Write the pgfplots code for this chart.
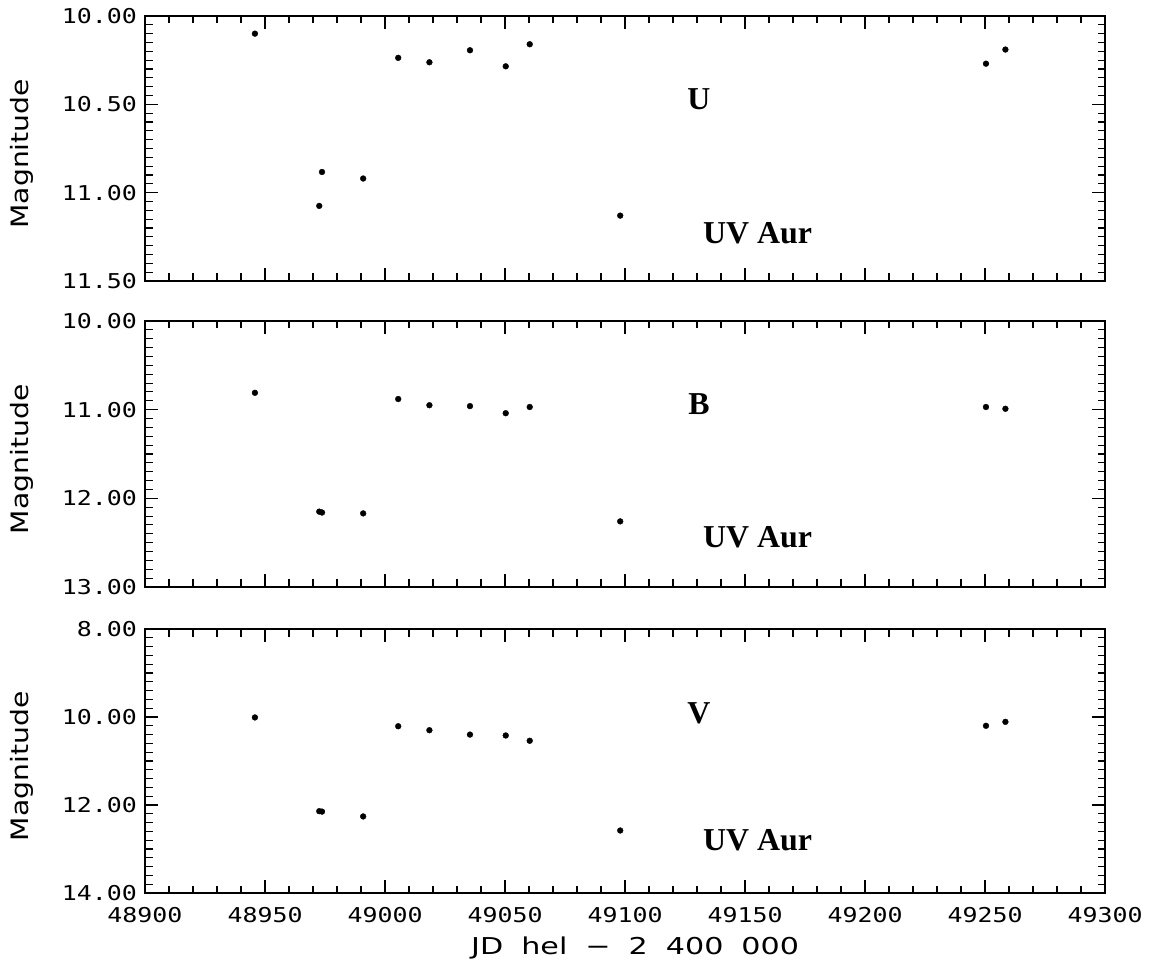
\documentclass[border=0pt]{standalone}
\usepackage{fontspec}
\usepackage{pgfplots}
\pgfplotsset{compat=1.18}
\setmainfont{DejaVu Sans}
\newfontfamily\tickfont{DejaVu Sans Mono}[FakeStretch=1.22]
\newfontfamily\labfont{DejaVu Sans}[FakeStretch=1.18]
\newfontfamily\titfont{DejaVu Sans}[FakeStretch=1.3]
\newfontfamily\serfont{Liberation Serif}

\pgfplotstableread{
x y
48945.8 10.10
48972.6 11.075
48973.75 10.883
48990.9 10.92
49005.5 10.237
49018.5 10.262
49035.4 10.194
49050.3 10.285
49060.3 10.160
49098.0 11.13
49250.4 10.27
49258.5 10.19
}\dataU
\pgfplotstableread{
x y
48945.8 10.81
48972.6 12.15
48973.75 12.16
48990.9 12.17
49005.5 10.88
49018.5 10.95
49035.4 10.96
49050.3 11.04
49060.3 10.97
49098.0 12.26
49250.4 10.97
49258.5 10.99
}\dataB
\pgfplotstableread{
x y
48945.8 10.01
48972.6 12.14
48973.75 12.15
48990.9 12.26
49005.5 10.21
49018.5 10.30
49035.4 10.40
49050.3 10.42
49060.3 10.54
49098.0 12.58
49250.4 10.20
49258.5 10.11
}\dataV

\tikzset{band/.style={font=\serfont\bfseries\fontsize{32}{32}\selectfont, inner sep=0pt}}

\pgfplotsset{
  panel/.style={
    scale only axis,
    width=960bp,
    anchor=south west,
    xmin=48900, xmax=49300,
    y dir=reverse,
    xtick={48900,48950,...,49300},
    scaled x ticks=false,
    scaled y ticks=false,
    minor x tick num=4,
    minor y tick num=9,
    major tick length=13bp,
    minor tick length=7.5bp,
    axis line style={line width=1.5bp},
    tick style={line width=1.1bp, black},
    /pgf/number format/1000 sep={},
    /pgf/number format/assume math mode=true,
    yticklabel style={font=\tickfont\fontsize{20.5}{20.5}\selectfont, inner sep=0pt,
      /pgf/number format/fixed, /pgf/number format/fixed zerofill, /pgf/number format/precision=2},
    yticklabel shift=8bp,
    xticklabel style={font=\tickfont\fontsize{20.5}{20.5}\selectfont, inner sep=0pt,
      /pgf/number format/fixed, /pgf/number format/precision=0},
    xticklabel shift=14bp,
    ylabel={Magnitude},
    ylabel style={font=\labfont\fontsize{24}{24}\selectfont, at={(axis description cs:-0.128,0.48)}, anchor=center, inner sep=0pt},
    clip=false,
  },
  pts/.style={only marks, mark=*, mark size=2.9bp, black, mark options={fill=black}},
}

\begin{document}
\begin{tikzpicture}[x=1bp,y=1bp]
\useasboundingbox (0,0) rectangle (1151,960);

\begin{axis}[panel, at={(145bp,679bp)}, height=265bp,
  ymin=10, ymax=11.5, ytick={10,10.5,11,11.5}, xticklabels={}]
  \addplot[pts] table[x=x,y=y] {\dataU};
  \node[band] at (axis cs:49130.8,10.47) {U};
  \node[band, anchor=west] at (axis cs:49132.5,11.23) {UV Aur};
\end{axis}

\begin{axis}[panel, at={(145bp,373bp)}, height=266bp,
  ymin=10, ymax=13, ytick={10,11,12,13}, xticklabels={}]
  \addplot[pts] table[x=x,y=y] {\dataB};
  \node[band] at (axis cs:49130.8,10.94) {B};
  \node[band, anchor=west] at (axis cs:49132.5,12.44) {UV Aur};
\end{axis}

\begin{axis}[panel, at={(145bp,67bp)}, height=264bp,
  ymin=8, ymax=14, ytick={8,10,12,14}]
  \addplot[pts] table[x=x,y=y] {\dataV};
  \node[band] at (axis cs:49130.8,9.91) {V};
  \node[band, anchor=west] at (axis cs:49132.5,12.79) {UV Aur};
\end{axis}

\node[font=\titfont\fontsize{23.3}{23.3}\selectfont, anchor=west, inner sep=0pt] at (471,12)
  {JD\hspace{18bp}hel\hspace{18bp}−\hspace{18bp}2\hspace{18bp}400\hspace{18bp}000};
\end{tikzpicture}
\end{document}
